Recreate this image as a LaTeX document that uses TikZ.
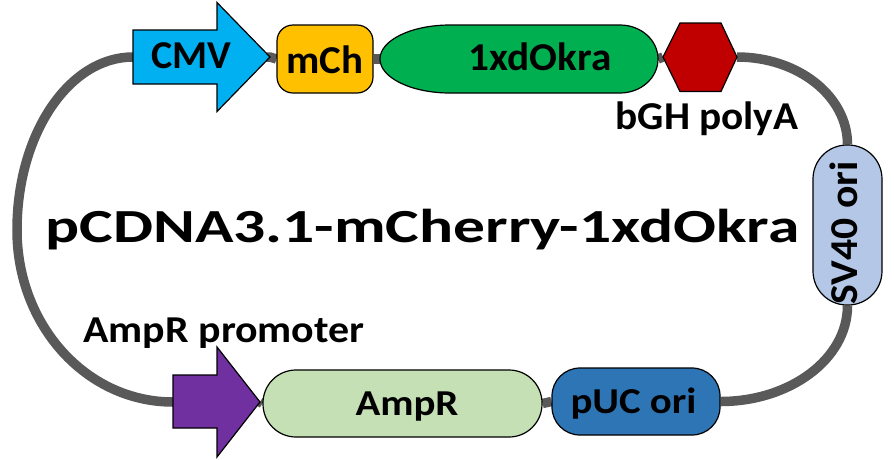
\documentclass[tikz,border=0pt]{standalone}
\usepackage{fontspec}
\setmainfont{Carlito}
\usepackage{graphicx}
\usetikzlibrary{backgrounds}
\definecolor{cmvc}{HTML}{00B0F0}
\definecolor{mchc}{HTML}{FFC000}
\definecolor{okrac}{HTML}{00B050}
\definecolor{hexc}{HTML}{C00000}
\definecolor{sv40c}{HTML}{B4C7E7}
\definecolor{pucc}{HTML}{2E75B6}
\definecolor{amprc}{HTML}{C5E0B4}
\definecolor{promc}{HTML}{7030A0}
\definecolor{loopc}{HTML}{595959}
\newcommand{\fitw}[2]{\resizebox{#1}{\height}{#2}}
\begin{document}
\begin{tikzpicture}[x=1pt,y=-1pt,
  loopline/.style={line width=9.5pt, draw=loopc},
  part/.style={draw=black, line width=1.2pt, inner sep=0pt},
  lbl/.style={inner sep=0pt, text depth=0pt, text height=25pt, font=\fontsize{39.5}{40}\selectfont\bfseries},
  lblsmall/.style={inner sep=0pt, text depth=0pt, text height=23pt, font=\fontsize{36.5}{38}\selectfont\bfseries}]
\useasboundingbox (0,0) rectangle (894,459);

% ---- top row ----
\coordinate (cmvtail) at (133,57);
\coordinate (cmvtip) at (270,57);
\path[part, fill=cmvc] (133,30) -- (217,30) -- (217,2.5) -- (cmvtip) -- (217,111.5) -- (217,84) -- (133,84) -- cycle;
\node[lbl] (cmv) at (191.5,55.5) {\fitw{80pt}{CMV}};

\node[part, fill=mchc, rounded corners=16pt, minimum width=96pt, minimum height=68pt] (mch) at (325,59) {};
\node[lbl] (mchtxt) at (325,61) {\fitw{77pt}{mCh}};

\coordinate (okraL) at (380,59);
\coordinate (okraR) at (658,59);
\path[part, fill=okrac] (450,25) -- (620,25) .. controls (641,25) and (658,40.2) .. (okraR)
  .. controls (658,77.8) and (641,93) .. (620,93) -- (450,93)
  .. controls (411.4,93) and (380,77.8) .. (okraL) .. controls (380,40.2) and (411.4,25) .. cycle;
\node[lbl] (okra) at (540,57.5) {\fitw{143pt}{1xdOkra}};

\coordinate (hexL) at (663,57);
\coordinate (hexR) at (737,57);
\path[part, fill=hexc] (hexL) -- (680,23) -- (721,23) -- (hexR) -- (721,91.5) -- (680,91.5) -- cycle;
\node[lbl] (bgh) at (707,117) {\fitw{183pt}{bGH polyA}};

% ---- right ----
\node[part, fill=sv40c, rounded corners=34pt, minimum width=69pt, minimum height=160pt] (sv40) at (847.5,225) {};
\node[lbl, rotate=90] (sv40txt) at (844.5,233) {\fitw{143pt}{SV40 ori}};

% ---- bottom row ----
\node[part, fill=pucc, rounded corners=28pt, minimum width=168pt, minimum height=67pt] (puc) at (636,401.5) {};
\node[lblsmall] (puctxt) at (633.5,401.5) {\fitw{126pt}{pUC ori}};

\node[part, fill=amprc, rounded corners=33pt, minimum width=279pt, minimum height=67pt] (ampr) at (402.5,403.5) {};
\node[lblsmall] (amprtxt) at (407,403.5) {\fitw{103pt}{AmpR}};

\coordinate (promtail) at (173,402);
\coordinate (promtip) at (260,402);
\path[part, fill=promc] (173,375) -- (217,375) -- (217,347) -- (promtip) -- (217,457) -- (217,428) -- (173,428) -- cycle;
\node[lbl, text height=24pt, font=\fontsize{38}{40}\selectfont\bfseries] (promtxt) at (224,330) {\fitw{281pt}{AmpR promoter}};

% ---- title ----
\node[inner sep=0pt, text depth=0pt, text height=30pt, font=\fontsize{47.5}{50}\selectfont\bfseries] (title) at (422.5,227) {\fitw{754pt}{pCDNA3.1-mCherry-1xdOkra}};

% ---- backbone ----
\begin{scope}[on background layer]
\draw[loopline] (cmvtail) -- (cmvtip) -- (mch.west);
\draw[loopline] (mch.east) -- (okraL);
\draw[loopline] (okraR) -- (hexL);
\draw[loopline] (hexR) .. controls (798,57) and (847.5,96) .. (sv40.north);
\draw[loopline] (sv40.south) .. controls (847.5,359) and (790,401.5) .. (puc.east);
\draw[loopline] (puc.west) -- (ampr.east);
\draw[loopline] (ampr.west) -- (promtip);
\draw[loopline] (promtail) .. controls (86,402) and (17,325) .. (17,230) .. controls (17,134) and (69,57) .. (cmvtail);
\end{scope}
\end{tikzpicture}
\end{document}
